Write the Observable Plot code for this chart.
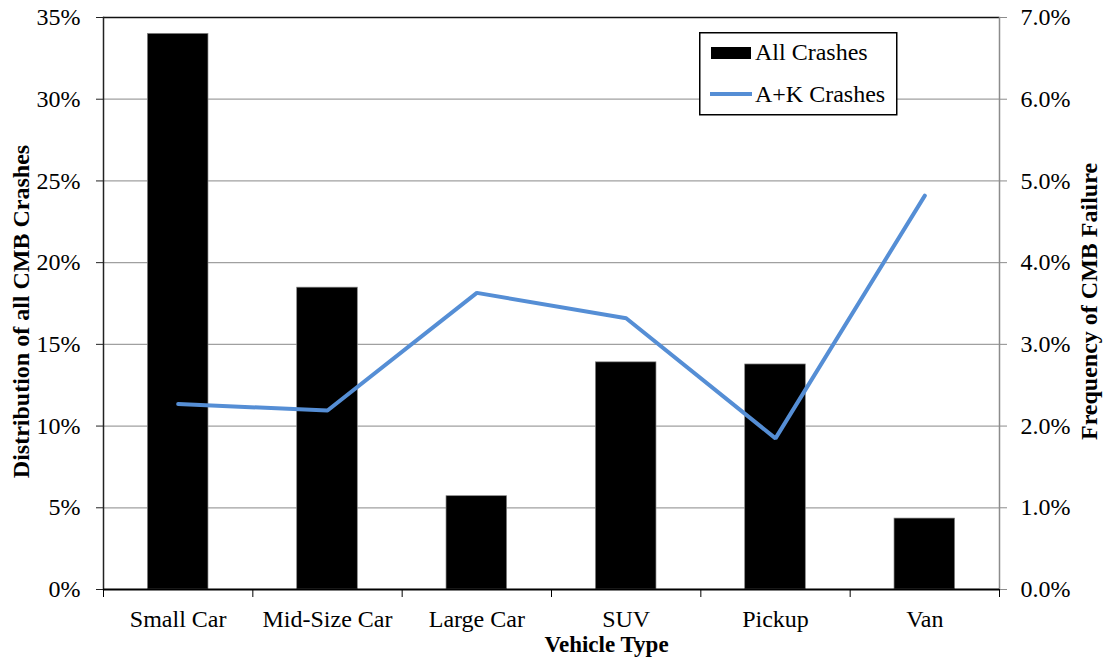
<!DOCTYPE html>
<html>
<head>
<meta charset="utf-8">
<script src="https://cdn.jsdelivr.net/npm/d3@7"></script>
<script src="https://cdn.jsdelivr.net/npm/@observablehq/plot@0.6"></script>
<style>
  html, body { margin: 0; padding: 0; background: white; }
  #wrap { position: relative; width: 1109px; height: 661px; }
  #legend { position: absolute; left: 699px; top: 32px; }
</style>
</head>
<body>
<div id="wrap"></div>
<script>
const categories = ["Small Car", "Mid-Size Car", "Large Car", "SUV", "Pickup", "Van"];
const allCrashes = [0.340, 0.1847, 0.0571, 0.139, 0.1377, 0.0434];   // left axis
const akCrashes  = [0.0227, 0.0219, 0.0363, 0.0332, 0.0185, 0.0482];  // right axis
const leftTicks = [0, 0.05, 0.10, 0.15, 0.20, 0.25, 0.30, 0.35];
const leftTickLabels = ["0%", "5%", "10%", "15%", "20%", "25%", "30%", "35%"];
const rightTickLabels = ["0.0%", "1.0%", "2.0%", "3.0%", "4.0%", "5.0%", "6.0%", "7.0%"];
const seriesNames = ["All Crashes", "A+K Crashes"];
const rightToLeft = 0.35 / 0.07;

const data = categories.map((c, i) => ({cat: c, i, all: allCrashes[i], ak: akCrashes[i]}));
const boundaries = d3.range(categories.length + 1);
const centers = categories.map((c, i) => i + 0.5);
const tickIndex = d => Math.round(d / 0.05);

const FONT = "'Liberation Serif', 'Times New Roman', serif";
const BLUE = "#558ed5";

const chart = Plot.plot({
  width: 1109,
  height: 661,
  marginLeft: 103,
  marginRight: 110,
  marginTop: 17,
  marginBottom: 72,
  x: {domain: [0, categories.length], axis: null},
  y: {domain: [0, 0.35], axis: null},
  style: {fontFamily: FONT, fontSize: "24px", color: "black", background: "white"},
  marks: [
    Plot.gridY(leftTicks.slice(1, -1), {stroke: "#a0a0a0", strokeOpacity: 1, strokeWidth: 1.3}),
    Plot.ruleY([0.35], {stroke: "#111", strokeWidth: 1.4}),
    Plot.frame({anchor: "right", stroke: "#8c8c8c", strokeWidth: 1.5}),
    Plot.rectY(data, {x1: d => d.i + 0.297, x2: d => d.i + 0.703, y: "all", fill: "black", stroke: "#888", strokeWidth: 0.7}),
    Plot.frame({anchor: "left", stroke: "#222", strokeWidth: 1.5}),
    Plot.ruleY([0], {stroke: "black", strokeWidth: 2}),
    Plot.lineY(data, {x: d => d.i + 0.5, y: d => d.ak * rightToLeft, stroke: BLUE, strokeWidth: 4, strokeLinejoin: "miter"}),
    Plot.axisY({ticks: leftTicks, tickSize: 7, tickPadding: 16, stroke: "#222", fill: "black",
      tickFormat: d => leftTickLabels[tickIndex(d)], label: null, fontSize: 24}),
    Plot.axisY({anchor: "right", ticks: leftTicks, tickSize: 7, tickPadding: 14, stroke: "#8c8c8c", fill: "black",
      tickFormat: d => rightTickLabels[tickIndex(d)], label: null, fontSize: 24}),
    Plot.axisX({ticks: boundaries, tickSize: 8, tickFormat: () => "", stroke: "black", label: null}),
    Plot.axisX({ticks: centers, tickSize: 0, tickPadding: 20, fill: "black",
      tickFormat: d => categories[Math.floor(d)], label: null, fontSize: 24}),
    Plot.text(["Distribution of all CMB Crashes"], {text: d => d, frameAnchor: "left", rotate: -90, dx: -82, dy: 8,
      textAnchor: "middle", lineAnchor: "middle", fontWeight: "bold", fontSize: 24, fill: "black"}),
    Plot.text(["Frequency of CMB Failure"], {text: d => d, frameAnchor: "right", rotate: -90, dx: 90, dy: -2,
      textAnchor: "middle", lineAnchor: "middle", fontWeight: "bold", fontSize: 24, fill: "black"}),
    Plot.text(["Vehicle Type"], {text: d => d, frameAnchor: "bottom", dx: 55, dy: 55,
      textAnchor: "middle", lineAnchor: "middle", fontWeight: "bold", fontSize: 23, fill: "black"})
  ]
});

const wrap = document.getElementById("wrap");
wrap.appendChild(chart);

// Legend
const legend = d3.create("svg")
  .attr("id", "legend")
  .attr("width", 199)
  .attr("height", 84)
  .style("font-family", FONT)
  .style("font-size", "24px");
legend.append("rect").attr("x", 0.75).attr("y", 0.75).attr("width", 197).attr("height", 82)
  .attr("fill", "white").attr("stroke", "black").attr("stroke-width", 1.5);
legend.append("rect").attr("x", 12).attr("y", 15).attr("width", 40).attr("height", 12).attr("fill", "black");
legend.append("text").attr("x", 56).attr("y", 28).text(seriesNames[0]);
legend.append("line").attr("x1", 11).attr("x2", 53).attr("y1", 62).attr("y2", 62)
  .attr("stroke", BLUE).attr("stroke-width", 4);
legend.append("text").attr("x", 56).attr("y", 70).text(seriesNames[1]);
wrap.appendChild(legend.node());
</script>
</body>
</html>
